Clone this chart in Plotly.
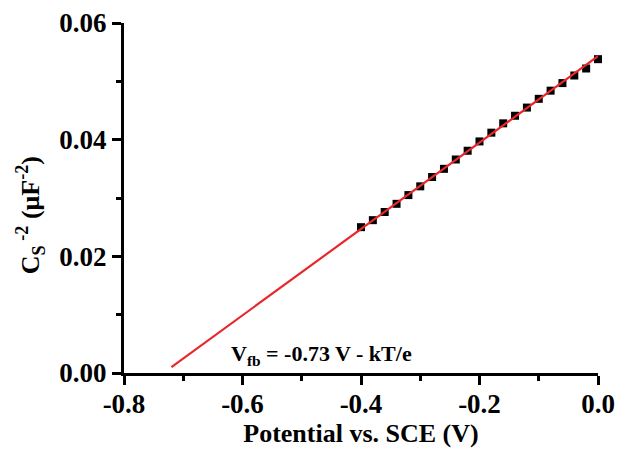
import plotly.graph_objects as go

# Measured data (Mott-Schottky)
potential = [-0.40, -0.38, -0.36, -0.34, -0.32, -0.30, -0.28, -0.26, -0.24, -0.22,
             -0.20, -0.18, -0.16, -0.14, -0.12, -0.10, -0.08, -0.06, -0.04, -0.02, 0.00]
cs_inv2 = [0.0250, 0.0262, 0.0276, 0.0290, 0.0305, 0.0320, 0.0336, 0.0350, 0.0366, 0.0381,
           0.0397, 0.0412, 0.0428, 0.0441, 0.0455, 0.0470, 0.0484, 0.0497, 0.0510, 0.0522, 0.0538]

# Linear fit line
fit_x = [-0.72, 0.0]
fit_y = [0.0010, 0.0543]

x_ticks = [-0.8, -0.6, -0.4, -0.2, 0.0]
x_ticktext = ["<b>-0.8</b>", "<b>-0.6</b>", "<b>-0.4</b>", "<b>-0.2</b>", "<b>0.0</b>"]
y_ticks = [0.00, 0.02, 0.04, 0.06]
y_ticktext = ["<b>0.00</b>", "<b>0.02</b>", "<b>0.04</b>", "<b>0.06</b>"]

font_family = "Liberation Serif"

fig = go.Figure()
fig.add_trace(go.Scatter(x=potential, y=cs_inv2, mode="markers",
                         marker=dict(symbol="square", size=8, color="black"),
                         showlegend=False, cliponaxis=False))
fig.add_trace(go.Scatter(x=fit_x, y=fit_y, mode="lines",
                         line=dict(color="#e8262b", width=2.2),
                         showlegend=False, cliponaxis=False))

fig.add_annotation(x=-0.622, y=0.0031, xref="x", yref="y", xanchor="left", yanchor="middle",
                   text="<b>V<sub>fb</sub> = -0.73 V - kT/e</b>", showarrow=False,
                   font=dict(family=font_family, size=22, color="black"))

# y-axis title as a rotated annotation for exact placement
fig.add_annotation(xref="paper", yref="paper", x=-0.199, y=0.45,
                   xanchor="center", yanchor="middle", textangle=-90,
                   text="<b>C<sub>S</sub><sup> -2</sup> (μF<sup>-2</sup>)</b>", showarrow=False,
                   font=dict(family=font_family, size=26, color="black"))

axis_common = dict(showline=True, linewidth=3, linecolor="black", mirror=False,
                   ticks="outside", ticklen=9, tickwidth=3, tickcolor="black",
                   showgrid=False, zeroline=False, automargin=False,
                   tickfont=dict(family=font_family, size=27, color="black"))

fig.update_xaxes(range=[-0.8, 0.0], tickvals=x_ticks, ticktext=x_ticktext,
                 ticklabelstandoff=-4,
                 minor=dict(ticks="outside", ticklen=5, tickwidth=3, tickcolor="black",
                            tickvals=[-0.7, -0.5, -0.3, -0.1]),
                 title=dict(text="<b>Potential vs. SCE (V)</b>", standoff=6,
                            font=dict(family=font_family, size=26, color="black")),
                 **axis_common)
fig.update_yaxes(range=[0.0, 0.06], tickvals=y_ticks, ticktext=y_ticktext,
                 minor=dict(ticks="outside", ticklen=5, tickwidth=3, tickcolor="black",
                            tickvals=[0.01, 0.03, 0.05]),
                 **axis_common)

fig.update_layout(width=617, height=450, margin=dict(l=124, r=19, t=23, b=77),
                  plot_bgcolor="white", paper_bgcolor="white")

fig.write_html("out.html", config={"displayModeBar": False},
               post_script="document.body.style.margin='0';")
